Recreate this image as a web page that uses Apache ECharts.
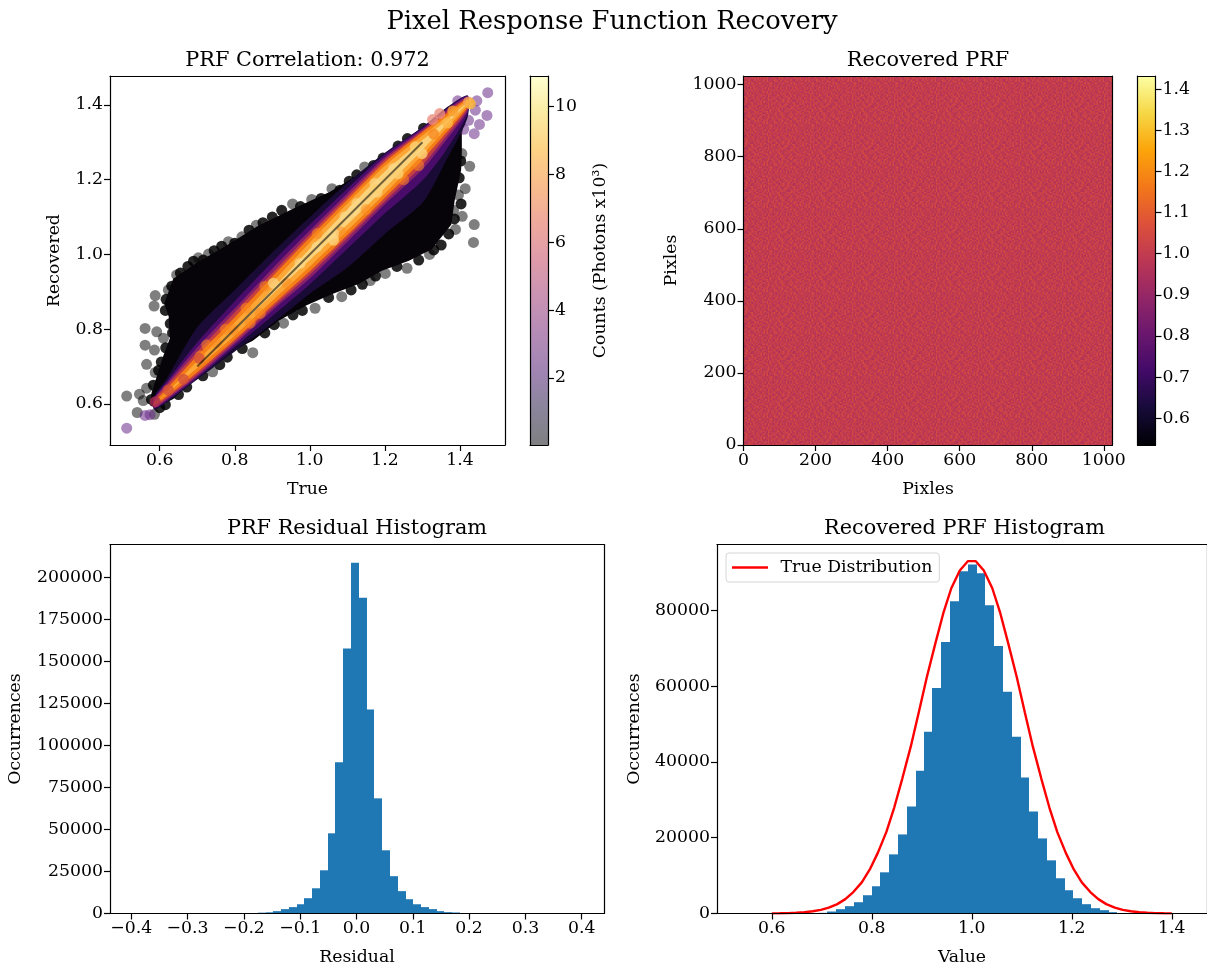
<!DOCTYPE html>
<html><head><meta charset="utf-8">
<style>html,body{margin:0;padding:0;background:#fff}#c{width:1207px;height:969px}</style>
<script src="https://cdn.jsdelivr.net/npm/echarts@6/dist/echarts.min.js"></script>
</head><body><div id="c"></div>
<script>
// ---------- data ----------
const inferno = ['#000004','#160b39','#420a68','#6a176e','#932667','#bc3754','#dd513a','#f37819','#fca50a','#f6d746','#fcffa4'];

const fitLine = [[0.7,0.7],[1.3,1.3]];
const densityEnvelope = [[.575,.595],[.578,.629],[.592,.673],[.609,.727],[.627,.776],[.624,.833],[.612,.869],[.636,.935],[.699,.978],[.788,1.030],[.859,1.075],[.948,1.119],[1.054,1.168],[1.143,1.222],[1.214,1.271],[1.285,1.320],[1.330,1.360],[1.383,1.392],[1.415,1.385],[1.405,1.320],[1.405,1.275],[1.403,1.225],[1.386,1.145],[1.377,1.080],[1.325,1.014],[1.264,.983],[1.192,.956],[1.130,.921],[1.060,.894],[.990,.863],[.918,.823],[.848,.769],[.794,.742],[.732,.698],[.690,.667],[.636,.613],[.590,.590]];
const ridgeX = [.585,.62,.70,.80,.90,1.00,1.10,1.20,1.30,1.36,1.42];
const ridgeY = [.600,.630,.705,.80,.90,1.00,1.10,1.20,1.293,1.35,1.405];
const bandNames = ['#1a0b36','#4a0c6b','#8a226a','#c6403f','#f57d15','#fca636','#fbd27a'];
const bandUp = [
 [.02,.04,.10,.105,.105,.10,.092,.072,.048,.04,.02],
 [.016,.032,.06,.075,.08,.08,.076,.068,.046,.036,.02],
 [.014,.026,.046,.056,.062,.064,.064,.06,.042,.032,.016],
 [.011,.02,.034,.045,.05,.054,.055,.054,.038,.028,.013],
 [.004,.012,.024,.032,.04,.045,.047,.047,.034,.023,.011],
 [0,.002,.01,.018,.025,.032,.036,.037,.025,.015,.007],
 [0,0,0,.002,.007,.015,.02,.022,.013,.006,.001]];
const bandDown = [
 [.015,.025,.04,.06,.085,.105,.135,.145,.155,.105,.04],
 [.012,.022,.036,.048,.065,.08,.085,.09,.095,.075,.03],
 [.01,.018,.032,.04,.05,.064,.066,.066,.066,.048,.022],
 [.008,.014,.026,.034,.043,.054,.056,.058,.054,.038,.016],
 [.004,.009,.02,.028,.036,.045,.048,.048,.04,.028,.011],
 [0,.002,.009,.017,.024,.032,.036,.037,.027,.017,.007],
 [0,0,0,.002,.007,.015,.02,.022,.013,.006,.001]];
const darkPoints = [[.512,.621],[.546,.626],[.556,.609],[.540,.577],[.586,.572],[.565,.642],[.588,.684],[.565,.706],[.561,.757],[.586,.744],[.561,.802],[.592,.793],[.610,.776],[.585,.862],[.588,.890],[.623,.905],[.645,.945],[.703,.991],[.730,1.001],[.783,1.034],[.819,1.047],[.857,1.078],[.954,1.135],[1.005,1.147],[1.059,1.176],[1.146,1.234],[.848,.737],[.741,.686],[.930,.816],[1.014,.856],[1.085,.887],[1.161,.930],[1.201,.949],[1.259,.963],[1.319,1.0],[1.436,1.032],[1.438,1.080],[1.406,1.102],[1.414,1.176],[1.426,1.236],[1.405,1.270],[1.388,1.067],[1.383,1.118],[1.396,1.159]];
const edgePoints = [[.578,.612],[.583,.650],[.597,.690],[.604,.712],[.616,.750],[.634,.790],[.628,.815],[.615,.850],[.617,.880],[.632,.915],[.655,.950],[.675,.968],[.690,.982],[.716,.985],[.745,1.010],[.765,1.022],[.800,1.030],[.838,1.065],[.875,1.085],[.900,1.100],[.925,1.118],[.975,1.128],[1.030,1.150],[1.080,1.172],[1.105,1.196],[1.125,1.213],[1.170,1.238],[1.195,1.258],[1.235,1.290],[1.260,1.310],[1.303,1.338],[1.402,1.250],[1.398,1.205],[1.403,1.135],[1.385,1.095],[1.370,1.055],[1.350,1.025],[1.330,1.012],[1.290,.985],[1.232,.968],[1.175,.942],[1.140,.920],[1.110,.905],[1.050,.885],[.980,.850],[.955,.838],[.905,.812],[.880,.790],[.820,.748],[.780,.725],[.760,.705],[.715,.675],[.672,.645],[.650,.625],[.615,.598],[.600,.590]];
const purplePoints = [[.512,.535],[.561,.569],[.574,.571],[1.474,1.433],[1.394,1.411],[1.445,1.411],[1.472,1.372],[1.452,1.348],[1.438,1.323],[1.441,1.386],[1.423,1.359],[1.410,1.335],[1.400,1.350]];
const warmPoints = [[1.423,1.408],[1.428,1.403],[1.381,1.384],[1.367,1.352],[1.346,1.377],[1.327,1.361],[1.330,1.322],[1.235,1.216],[1.177,1.176],[1.281,1.288],[.623,.637],[.588,.606],[.663,.666],[.705,.722]];
const warmColors = ['#f0a060','#f9b43a','#f9a030','#fbb848','#ec8f80','#ec8f80','#f98a20','#fbd070','#fbd070','#fbd070','#d4503a','#a82a55','#d4503a','#d4503a'];
const palePoints = [[1.063,1.056],[1.094,1.101],[1.125,1.136],[1.174,1.190],[1.179,1.167],[1.223,1.230],[1.299,1.270],[1.019,1.020],[.974,.976],[.903,.923],[1.063,1.038],[1.116,1.118]];
const orangePoints = [[.841,.816],[.796,.798],[.752,.762],[.708,.728],[.868,.842],[.939,.923],[.775,.800],[.725,.758],[.830,.856],[.880,.915],[1.020,1.056],[1.083,1.060],[1.150,1.120],[1.250,1.200],[1.290,1.238]];

const prfTile = [
 '4635372645825364173548261937','5274813629457382645173946285','3716458273514692836572418394','6352847193625814735291647358',
 '2845731648293576184637285916','7413695824716352843764915283','4582631759348271659432867145','1639475284613597263815472964',
 '8357246193752846317596283471','4921683572469135824637915682','6573814296835721479328546137','2748196354621873568459371246',
 '5439281763579418256347628915','3867524182946357612895143762','7214639573815264938741562938','4185367291473826594632178456',
 '9632751846382597143268495713','2376845219647358261754923684','5813476928351649732586174239','6749231854726913875431682547',
 '3562948173528417693625749185','7148352694173852469317586243','4695217384962573184652391876','1827463951384629573468215794',
 '5936184725647318296175483629','2674593816259743861942673158','8341762953417682534789156342','4597236148935126748263594871'];

const resEdges = [-.1753,-.1610,-.1486,-.1344,-.1202,-.1060,-.0935,-.0793,-.0651,-.0509,-.0385,-.0243,-.0101,.0041,.0184,.0308,.0450,.0592,.0734,.0876,.1001,.1143,.1285,.1427,.1551,.1693,.1835];
const resCounts = [500,700,1400,2600,3800,5500,9100,15000,25700,47700,89900,157600,208600,187800,121300,68500,37600,22200,13300,8500,5500,3800,2600,1400,800,600];
const valEdges = [.694,.710,.728,.746,.764,.782,.800,.816,.834,.852,.870,.888,.904,.921,.939,.957,.975,.993,1.011,1.027,1.045,1.063,1.081,1.099,1.115,1.133,1.151,1.169,1.187,1.203,1.221,1.239,1.257,1.275,1.291];
const valCounts = [175,525,1140,1930,2980,4820,7190,10870,15610,20870,28240,37710,47970,59550,71650,82440,90330,92090,89800,81390,70600,58500,46660,35870,26920,19820,14030,9300,6140,4030,2460,1400,880,350];
const trueX = [.600,.616,.633,.649,.665,.682,.698,.714,.731,.747,.763,.780,.796,.812,.829,.845,.861,.878,.894,.910,.927,.943,.959,.976,.992,1.008,1.024,1.041,1.057,1.073,1.090,1.106,1.122,1.139,1.155,1.171,1.188,1.204,1.220,1.237,1.253,1.269,1.286,1.302,1.318,1.335,1.351,1.367,1.384,1.400];
const trueY = [31,60,110,197,345,590,975,1575,2475,3790,5660,8220,11620,16000,21470,28040,35620,44100,53140,62350,71230,79260,85850,90550,93000,93000,90550,85850,79260,71230,62350,53140,44100,35620,28040,21470,16000,11620,8220,5660,3790,2475,1575,975,590,345,197,110,60,31];

const ticks1X = [.6,.8,1.0,1.2,1.4], ticks1Y = [.6,.8,1.0,1.2,1.4], ticksCb1 = [2,4,6,8,10];
const ticks2 = [0,200,400,600,800,1000], ticksCb2 = [.6,.7,.8,.9,1.0,1.1,1.2,1.3,1.4];
const ticks3X = [-.4,-.3,-.2,-.1,0,.1,.2,.3,.4], ticks3Y = [0,25000,50000,75000,100000,125000,150000,175000,200000];
const ticks4X = [.6,.8,1.0,1.2,1.4], ticks4Y = [0,20000,40000,60000,80000];

// ---------- layout and style ----------
const FONT = 'DejaVu Serif', TICK = 17.3, LABEL = 17.3;
const grids = [], xAxes = [], yAxes = [], series = [], titles = [];
const fmt = (d) => (v) => (v < 0 ? '\u2212' : '') + Math.abs(v).toFixed(d);
const lineS = {show:true, lineStyle:{color:'#000', width:1.2}};

function panel(g, xr, yr, o) {
  const gi = grids.length; grids.push(g);
  const ax = (r, ticks, dec, name, gap, pos, isMain) => ({
    type:'value', gridIndex:gi, min:r[0], max:r[1], position:pos, z:10,
    name:isMain ? name : '', nameLocation:'middle', nameGap:gap,
    nameTextStyle:{fontFamily:FONT, fontSize:LABEL, color:'#000'},
    splitLine:{show:false}, axisLine:Object.assign({onZero:false}, lineS),
    axisTick:{show:isMain && !!ticks, inside:false, length:6, lineStyle:{color:'#000', width:1.2}, customValues:ticks||undefined},
    axisLabel:{show:isMain && !!ticks, margin:7, fontFamily:FONT, fontSize:TICK, color:'#000', customValues:ticks||undefined, formatter:fmt(dec)}
  });
  const xi = xAxes.length, yi = yAxes.length;
  xAxes.push(ax(xr, o.xt, o.xd||0, o.xn, o.xgap||30, 'bottom', !!o.xt));
  xAxes.push(ax(xr, null, 0, '', 0, 'top', false));
  const ypos = o.yRight ? 'right' : 'left';
  yAxes.push(ax(yr, o.yt, o.yd||0, o.yn, o.ygap||40, ypos, true));
  yAxes.push(ax(yr, null, 0, '', 0, o.yRight ? 'left' : 'right', false));
  if (o.title) titles.push({text:o.title, left:g.left + g.width/2 + (o.tdx||0), top:g.top - 26, textAlign:'center', padding:0,
    textStyle:{fontFamily:FONT, fontSize:20.8, fontWeight:'normal', color:'#000'}});
  return {xAxisIndex:xi, yAxisIndex:yi};
}

function polygonSeries(ax, pts, color, z, smooth) {
  series.push(Object.assign({type:'custom', coordinateSystem:'cartesian2d', clip:true, z:z, silent:true,
    encode:{x:0, y:1}, data:pts,
    renderItem:(p, api) => p.dataIndex !== 0 ? null : ({type:'polygon', silent:true,
      shape:{points:pts.map(q => api.coord(q)), smooth:smooth||0},
      style:{fill:color}})}, ax));
}
function histSeries(ax, edges, counts) {
  const rows = counts.map((c, i) => [edges[i], edges[i+1], c]);
  series.push(Object.assign({type:'custom', coordinateSystem:'cartesian2d', z:3, silent:true,
    encode:{x:[0,1], y:2}, data:rows,
    renderItem:(p, api) => {
      const a = api.coord([api.value(0), 0]), b = api.coord([api.value(1), api.value(2)]);
      const x0 = Math.round(a[0]), x1 = Math.round(b[0]);
      return {type:'rect', shape:{x:x0, y:b[1], width:x1-x0, height:a[1]-b[1]}, style:{fill:'#1f77b4'}};
    }}, ax));
}
function colorbar(left, range, ticks, dec, opacity, name) {
  const g = {left:left, top:76, width:18, height:369};
  const ax = panel(g, [0,1], range, {yt:ticks, yd:dec, yRight:true, yn:name, ygap:name?44:0});
  const grad = new echarts.graphic.LinearGradient(0,1,0,0, inferno.map((c,i)=>({offset:i/10, color:c})));
  series.push(Object.assign({type:'custom', coordinateSystem:'cartesian2d', z:3, silent:true, clip:true,
    encode:{x:0, y:1}, data:[[0, range[0], 1, range[1]]],
    renderItem:(p, api) => {
      const a = api.coord([0, api.value(1)]), b = api.coord([1, api.value(3)]);
      return {type:'rect', shape:{x:a[0], y:b[1], width:b[0]-a[0], height:a[1]-b[1]}, style:{fill:grad, opacity:opacity}};
    }}, ax));
}
function scatterSeries(ax, pts, colors, op, z) {
  series.push(Object.assign({type:'scatter', symbolSize:11, z:z, silent:true, clip:true,
    data:pts.map((q,i)=>({value:q, itemStyle:{color:Array.isArray(colors)?colors[i]:colors, opacity:op}}))}, ax));
}

// Panel 1: density scatter
const a1 = panel({left:110, top:76, width:395, height:369}, [.4675,1.52], [.49,1.4775],
  {xt:ticks1X, xd:1, yt:ticks1Y, yd:1, xn:'True', yn:'Recovered', xgap:36, ygap:47, title:'PRF Correlation: 0.972'});
scatterSeries(a1, darkPoints, '#000', .5, 3);
scatterSeries(a1, edgePoints, '#000', .85, 3);
polygonSeries(a1, densityEnvelope, '#060409', 4);
scatterSeries(a1, purplePoints, '#6a2a88', .55, 4.5);
bandNames.forEach((c, b) => {
  const up = ridgeX.map((x,i)=>[x, ridgeY[i]+bandUp[b][i]]);
  const dn = ridgeX.map((x,i)=>[x, ridgeY[i]-bandDown[b][i]]).reverse();
  polygonSeries(a1, up.concat(dn), c, 5+b*0.01, .25);
});
scatterSeries(a1, orangePoints, '#f98a20', .5, 6);
scatterSeries(a1, palePoints, '#fbd888', .7, 6);
scatterSeries(a1, warmPoints, warmColors, .8, 6);
series.push(Object.assign({type:'line', data:fitLine, symbol:'none', z:8, silent:true,
  lineStyle:{color:'#000', width:2, opacity:.55}}, a1));
colorbar(530, [.02,10.9], ticksCb1, 0, .5, 'Counts (Photons x10\u00b3)');

// Panel 2: recovered PRF image
const a2 = panel({left:743.5, top:76, width:369, height:369}, [0,1024], [0,1024],
  {xt:ticks2, yt:ticks2, xn:'Pixles', yn:'Pixles', xgap:36, ygap:63, title:'Recovered PRF'});
const prfExtent = [[0,0,1024,1024]];
const tile = document.createElement('canvas');
(function(){
  const n = prfTile.length, s = 1.5; tile.width = tile.height = Math.round(n*s);
  const ctx = tile.getContext('2d');
  const lerp = (v) => echarts.color.lerp((v-.535)/(1.432-.535), inferno);
  ctx.fillStyle = lerp(1.0); ctx.fillRect(0,0,tile.width,tile.height);
  prfTile.forEach((row, j) => { for (let i = 0; i < n; i++) {
    ctx.fillStyle = lerp(.942 + .0125*(+row[i]));
    ctx.fillRect(i*s, j*s, s, s);
  }});
})();
series.push(Object.assign({type:'custom', coordinateSystem:'cartesian2d', z:3, silent:true, clip:true,
  encode:{x:0, y:1}, data:prfExtent,
  renderItem:(p, api) => {
    const a = api.coord([api.value(0), api.value(1)]), b = api.coord([api.value(2), api.value(3)]);
    return {type:'rect', shape:{x:a[0], y:b[1], width:b[0]-a[0], height:a[1]-b[1]}, style:{fill:{image:tile, repeat:'repeat'}}};
  }}, a2));
colorbar(1137.5, [.535,1.432], ticksCb2, 1, 1, '');

// Panel 3: residual histogram
const a3 = panel({left:110, top:544.5, width:494, height:369}, [-.4378,.4396], [0,219500],
  {xt:ticks3X, xd:1, yt:ticks3Y, xn:'Residual', yn:'Occurrences', xgap:36, ygap:86, title:'PRF Residual Histogram'});
histSeries(a3, resEdges, resCounts);

// Panel 4: recovered histogram
const a4 = panel({left:717, top:544.5, width:491, height:369}, [.4904,1.4704], [0,97400],
  {xt:ticks4X, xd:1, yt:ticks4Y, xn:'Value', yn:'Occurrences', xgap:36, ygap:74, title:'Recovered PRF Histogram', tdx:2});
histSeries(a4, valEdges, valCounts);
series.push(Object.assign({type:'line', name:'True Distribution', data:trueX.map((x,i)=>[x,trueY[i]]), symbol:'none', z:5, silent:true,
  lineStyle:{color:'#ff0000', width:2.4}, itemStyle:{color:'#ff0000'}}, a4));

titles.push({text:'Pixel Response Function Recovery', left:612, top:9, textAlign:'center', padding:0,
  textStyle:{fontFamily:FONT, fontSize:25.8, fontWeight:'normal', color:'#000'}});

const chart = echarts.init(document.getElementById('c'), null, {renderer:'canvas'});
chart.setOption({
  animation:false, backgroundColor:'#fff', title:titles, grid:grids, xAxis:xAxes, yAxis:yAxes, series:series,
  legend:{data:['True Distribution'], left:726, top:553, orient:'horizontal', icon:'path://M0 0H30V2H0Z',
    itemWidth:37, itemHeight:2.4, padding:[6,7,6,6], borderColor:'#d5d5d5', borderWidth:1, borderRadius:3,
    backgroundColor:'rgba(255,255,255,.8)', selectedMode:false, z:20,
    textStyle:{fontFamily:FONT, fontSize:17.3, color:'#000', padding:[0,0,0,7]}}
});
</script></body></html>
